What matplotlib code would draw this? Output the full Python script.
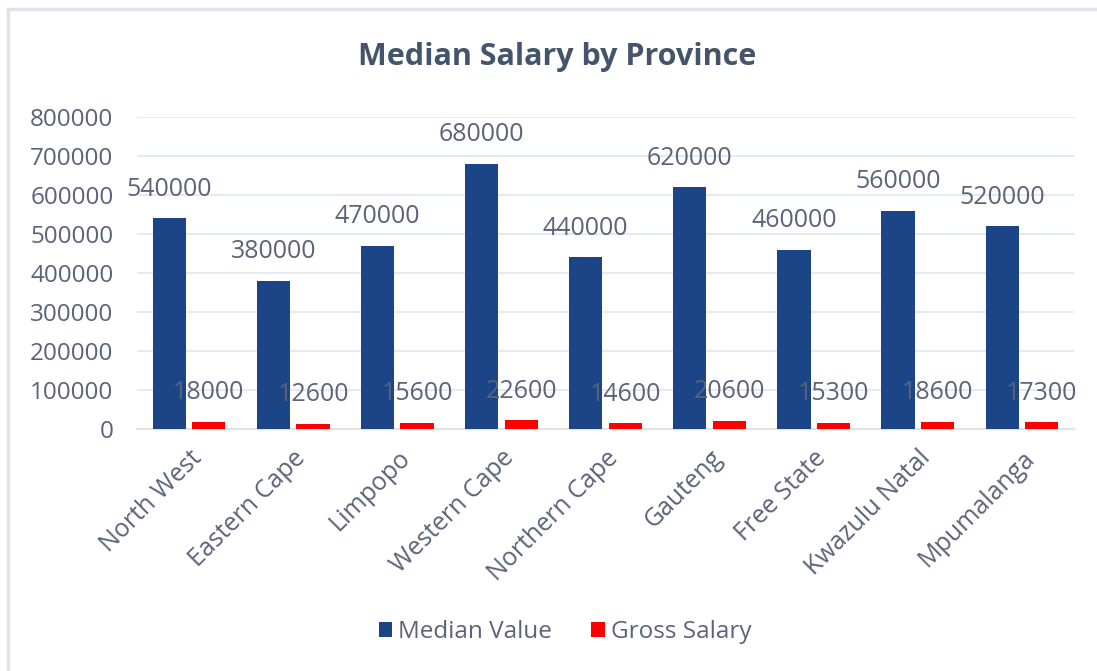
"""
Median salary by province - grouped bar chart recreation
"""
import numpy as np
import matplotlib.pyplot as plt
from matplotlib.lines import Line2D

plt.rcParams['font.family'] = ['Open Sans', 'DejaVu Sans']

provinces = ['North West', 'Eastern Cape', 'Limpopo', 'Western Cape', 'Northern Cape',
             'Gauteng', 'Free State', 'Kwazulu Natal', 'Mpumalanga']
median_value = [540000, 380000, 470000, 680000, 440000, 620000, 460000, 560000, 520000]
gross_salary = [18000, 12600, 15600, 22600, 14600, 20600, 15300, 18600, 17300]
yticks = [0, 100000, 200000, 300000, 400000, 500000, 600000, 700000, 800000]

BLUE = '#1c4587'
RED = '#ff0000'
TXT = '#5a6378'
TITLE = '#44546a'
FRAME = '#dfe2ea'

fig = plt.figure(figsize=(10.97, 6.71), dpi=100)
# light frame round the chart: only left and top edges fall inside the picture
fig.lines.append(Line2D([8/1097, 8/1097], [0, 1 - 9/671], transform=fig.transFigure,
                        color=FRAME, linewidth=2.5))
fig.lines.append(Line2D([8/1097, 1], [1 - 9/671, 1 - 9/671], transform=fig.transFigure,
                        color=FRAME, linewidth=2.5))

ax = fig.add_axes([137/1097, (671-429)/671, (1074-137)/1097, (429-117)/671])

x = np.arange(len(provinces))
w = 0.32
b1 = ax.bar(x - 0.19, median_value, w, color=BLUE, zorder=3, label='Median Value')
b2 = ax.bar(x + 0.19, gross_salary, w, color=RED, zorder=3, label='Gross Salary')

for bars in (b1, b2):
    for r in bars:
        ax.annotate(f"{int(r.get_height())}", (r.get_x() + r.get_width()/2, r.get_height()),
                    xytext=(0, 21), textcoords='offset points', ha='center', va='center',
                    fontsize=18, color=TXT, zorder=4)

ax.set_ylim(0, 800000)
ax.set_xlim(-0.5, len(provinces) - 0.5)
ax.set_yticks(yticks)
ax.set_yticklabels([str(v) for v in yticks])
ax.set_xticks(x)
ax.set_xticklabels(provinces, rotation=45, ha='right', rotation_mode='anchor')
ax.tick_params(axis='y', length=0, pad=17, labelsize=17.5, labelcolor=TXT)
ax.tick_params(axis='x', length=0, pad=12, labelsize=18, labelcolor=TXT)
ax.grid(axis='y', color='#e6e9ef', linewidth=1.5, zorder=0)
ax.set_axisbelow(True)
for s in ['top', 'right', 'left']:
    ax.spines[s].set_visible(False)
ax.spines['bottom'].set_color('#e0e3ea')
ax.spines['bottom'].set_linewidth(1.5)

fig.text(557/1097, 1 - 57/671, 'Median Salary by Province', ha='center', va='center',
         fontsize=22, fontweight='bold', color=TITLE)

fig.legend(handles=[b1, b2], loc='center', bbox_to_anchor=(565/1097, 1 - 632/671),
           ncol=2, frameon=False, fontsize=17.5, labelcolor=TXT, handlelength=0.55,
           handleheight=0.55, handletextpad=0.25, columnspacing=1.6)

fig.savefig('out.png', dpi=100)
